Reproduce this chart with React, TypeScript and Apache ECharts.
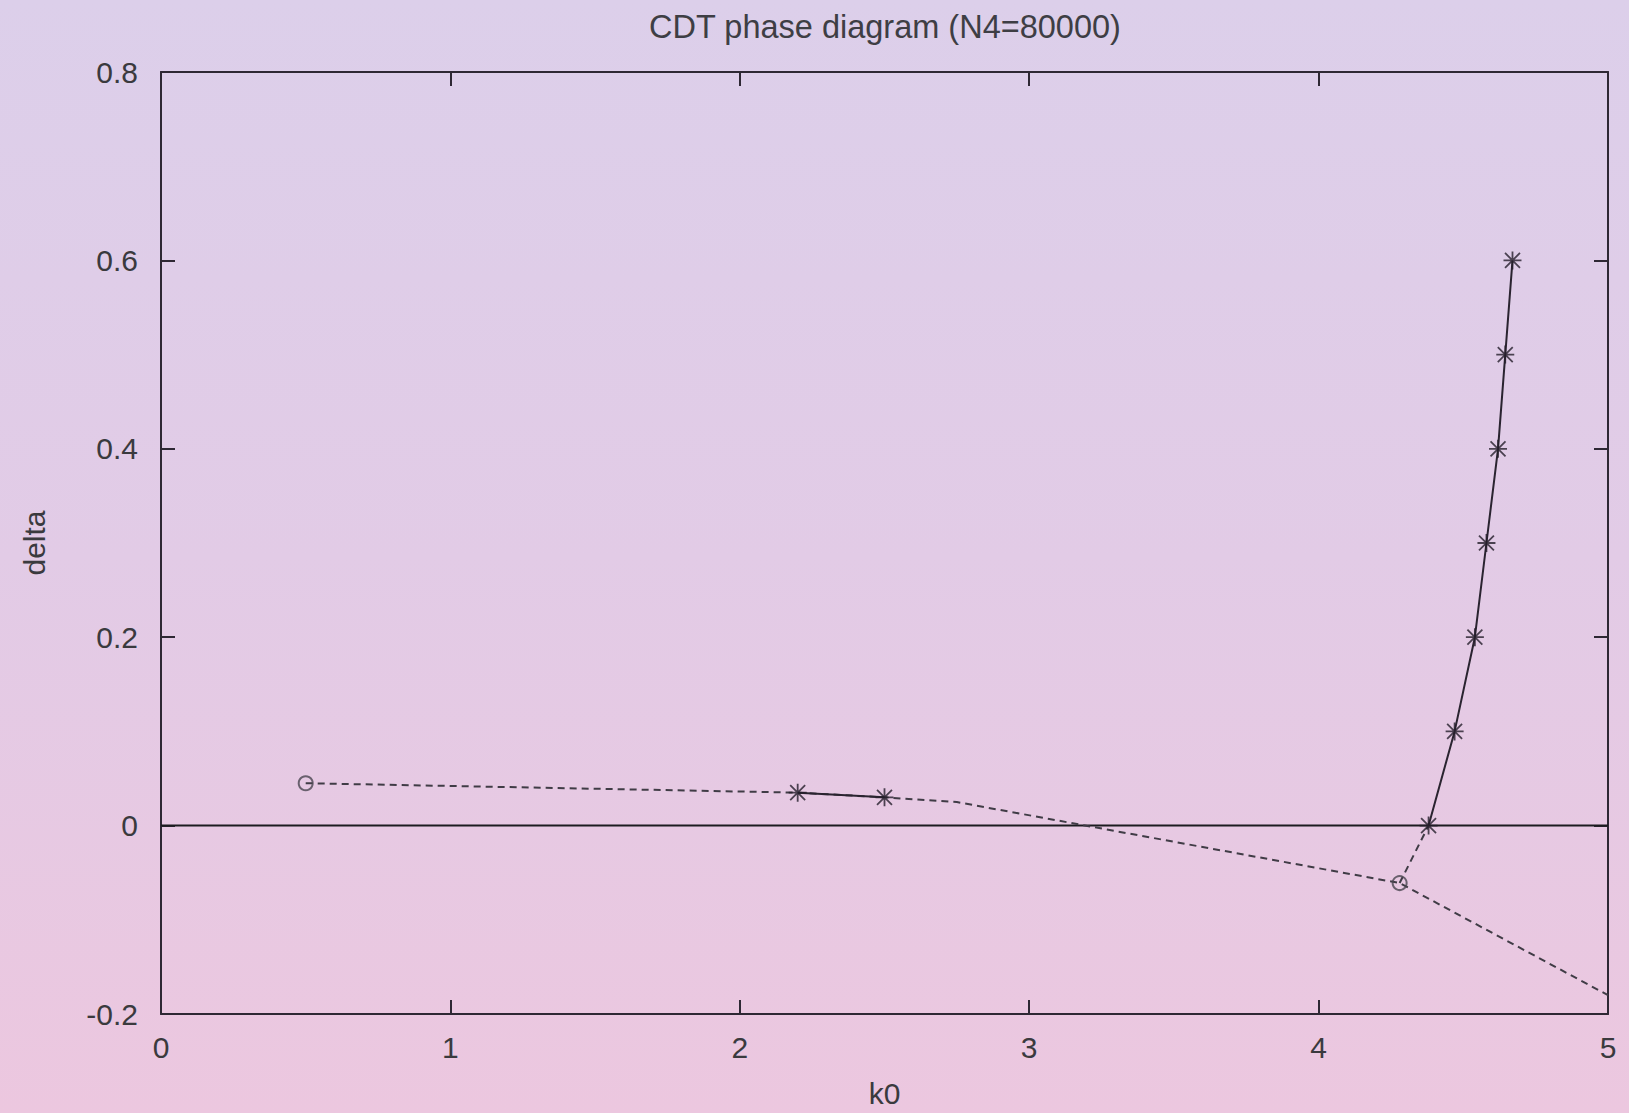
import React, { useEffect, useRef } from "react";
import * as echarts from "echarts";

// ---- data ----
const titleText = "CDT phase diagram (N4=80000)";
const xTicks = [0, 1, 2, 3, 4, 5];
const yTicks = [-0.2, 0, 0.2, 0.4, 0.6, 0.8];

// dashed transition line (A-C then through triple point to lower right)
const dashedMain: [number, number][] = [
  [0.5, 0.045],
  [2.2, 0.035],
  [2.5, 0.03],
  [2.75, 0.025],
  [4.28, -0.061],
  [5.0, -0.18],
];
// dashed branch from triple point up to k0 axis
const dashedBranch: [number, number][] = [
  [4.28, -0.061],
  [4.38, 0.0],
];
// solid segments (measured)
const solidLeft: [number, number][] = [
  [2.2, 0.035],
  [2.5, 0.03],
];
const solidRight: [number, number][] = [
  [4.38, 0.0],
  [4.47, 0.1],
  [4.54, 0.2],
  [4.58, 0.3],
  [4.62, 0.4],
  [4.645, 0.5],
  [4.67, 0.6],
];
// markers
const starPoints: [number, number][] = [...solidLeft, ...solidRight];
const circlePoints: [number, number][] = [
  [0.5, 0.045],
  [4.28, -0.061],
];
const zeroLine: [number, number][] = [
  [0, 0],
  [5, 0],
];

const STAR_PATH =
  "path://M9 0L11 0L11 20L9 20Z M0 9L20 9L20 11L0 11Z M1 2.4L2.4 1L19 17.6L17.6 19Z M17.6 1L19 2.4L2.4 19L1 17.6Z";

const FONT = "'Liberation Sans', Arial, Helvetica, sans-serif";
const TEXT_COLOR = "#3a3a3e";
const AXIS_COLOR = "#2e2834";

export default function App() {
  const ref = useRef<HTMLDivElement>(null);
  useEffect(() => {
    if (!ref.current) return;
    const chart = echarts.init(ref.current, undefined, { renderer: "svg" });
    const axisLine = { show: true, onZero: false, lineStyle: { color: AXIS_COLOR, width: 2 } };
    const axisTick = { show: true, inside: true, length: 14, lineStyle: { color: AXIS_COLOR, width: 2 } };
    const labelStyle = { color: TEXT_COLOR, fontSize: 30, fontFamily: FONT };
    chart.setOption({
      animation: false,
      backgroundColor: "transparent",
      title: {
        text: titleText,
        left: 880,
        top: 5,
        textAlign: "center",
        textStyle: { color: "#3e3e44", fontSize: 32.5, fontWeight: "normal", fontFamily: FONT },
      },
      grid: { left: 161, right: 21, top: 72, bottom: 88, containLabel: false },
      xAxis: [
        {
          type: "value",
          min: 0,
          max: 5,
          interval: 1,
          position: "bottom",
          name: "k0",
          nameLocation: "middle",
          nameGap: 64,
          nameTextStyle: { ...labelStyle },
          axisLine,
          axisTick,
          splitLine: { show: false },
          axisLabel: {
            ...labelStyle,
            margin: 18,
            formatter: (v: number) => (xTicks.includes(v) ? String(v) : ""),
          },
        },
        {
          type: "value",
          min: 0,
          max: 5,
          interval: 1,
          position: "top",
          axisLine,
          axisTick,
          splitLine: { show: false },
          axisLabel: { show: false },
        },
      ],
      yAxis: [
        {
          type: "value",
          min: -0.2,
          max: 0.8,
          interval: 0.2,
          position: "left",
          name: "delta",
          nameLocation: "middle",
          nameGap: 112,
          nameTextStyle: { ...labelStyle },
          axisLine,
          axisTick,
          splitLine: { show: false },
          axisLabel: {
            ...labelStyle,
            margin: 23,
            formatter: (v: number) => {
              const r = Math.round(v * 10) / 10;
              const t = yTicks.find((y) => Math.abs(y - r) < 1e-9);
              return t === undefined ? "" : t === 0 ? "0" : String(t);
            },
          },
        },
        {
          type: "value",
          min: -0.2,
          max: 0.8,
          interval: 0.2,
          position: "right",
          axisLine,
          axisTick,
          splitLine: { show: false },
          axisLabel: { show: false },
        },
      ],
      series: [
        {
          type: "line",
          data: zeroLine,
          symbol: "none",
          lineStyle: { color: "#1c1c20", width: 2 },
          z: 2,
        },
        {
          type: "line",
          data: dashedMain,
          symbol: "none",
          lineStyle: { color: "#403c46", width: 2, type: [7, 5] },
          z: 3,
        },
        {
          type: "line",
          data: dashedBranch,
          symbol: "none",
          lineStyle: { color: "#403c46", width: 2, type: [7, 5] },
          z: 3,
        },
        {
          type: "line",
          data: solidLeft,
          symbol: "none",
          lineStyle: { color: "#2a2430", width: 2 },
          z: 4,
        },
        {
          type: "line",
          data: solidRight,
          symbol: "none",
          lineStyle: { color: "#2a2430", width: 2 },
          z: 4,
        },
        {
          type: "scatter",
          data: starPoints,
          symbol: STAR_PATH,
          symbolSize: 18,
          itemStyle: { color: "#241e2a" },
          z: 5,
        },
        {
          type: "scatter",
          data: circlePoints,
          symbol: "circle",
          symbolSize: 14,
          itemStyle: { color: "rgba(0,0,0,0)", borderColor: "#4a4650", borderWidth: 2 },
          z: 5,
        },
      ],
    });
    return () => chart.dispose();
  }, []);
  return (
    <div
      ref={ref}
      style={{
        position: "fixed",
        left: 0,
        top: 0,
        width: 1629,
        height: 1113,
        background: "linear-gradient(to bottom, #dccfea 0%, #e2cbe6 50%, #ecc7df 100%)",
      }}
    />
  );
}
